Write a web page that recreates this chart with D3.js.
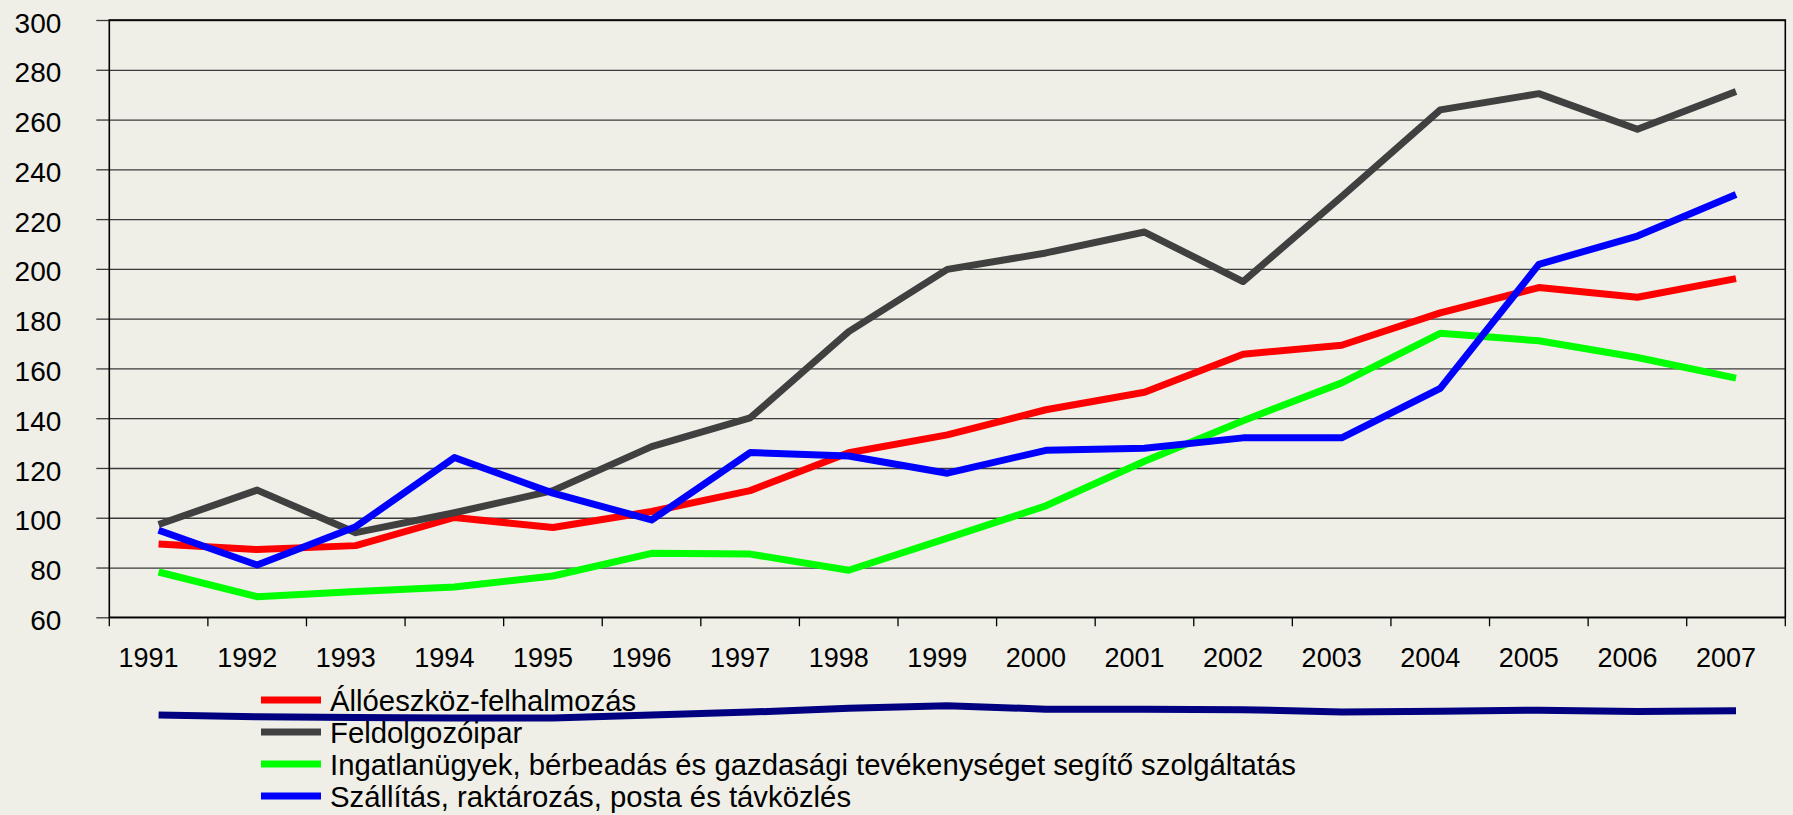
<!DOCTYPE html>
<html>
<head>
<meta charset="utf-8">
<script src="https://cdn.jsdelivr.net/npm/d3@7"></script>
<style>
  body { margin: 0; background: #efefe7; }
  svg { display: block; font-family: "Liberation Sans", Arial, sans-serif; }
  .domain { display: none; }
</style>
</head>
<body>
<div id="chart"></div>
<script>
var svgWidth = 1793;
var svgHeight = 815;

var margin = { top: 20, right: 7.7, bottom: 197.7, left: 109.3 };
var width = svgWidth - margin.left - margin.right;
var height = svgHeight - margin.top - margin.bottom;

// data
var years = ["1991", "1992", "1993", "1994", "1995", "1996", "1997", "1998", "1999",
    "2000", "2001", "2002", "2003", "2004", "2005", "2006", "2007"];
var yTicks = [60, 80, 100, 120, 140, 160, 180, 200, 220, 240, 260, 280, 300];

var seriesNames = [
    "Állóeszköz-felhalmozás",
    "Feldolgozóipar",
    "Ingatlanügyek, bérbeadás és gazdasági tevékenységet segítő szolgáltatás",
    "Szállítás, raktározás, posta és távközlés"
];
var seriesColors = ["#ff0000", "#404040", "#00ff00", "#0000ff"];

var allo = [89.5, 87.2, 88.8, 100.1, 96.1, 102.5, 110.9, 126.1, 133.3, 143.4, 150.4, 165.7, 169.3, 182.3, 192.5, 188.6, 196.1];
var feldolgozo = [97.3, 111.1, 94, 102, 110.9, 128.6, 140.1, 174.8, 199.8, 206.4, 214.8, 194.9, 229, 263.9, 270.4, 256.1, 271.3];
var ingatlan = [78.2, 68.3, 70.4, 72.2, 76.6, 85.7, 85.4, 78.9, 91.8, 104.8, 122.7, 139, 154.2, 174.1, 171.1, 164.4, 156.1];
var szallitas = [95, 81, 96.4, 124.2, 109.9, 99.1, 126.2, 124.8, 117.9, 127.1, 127.9, 132.1, 132.1, 152, 201.8, 213.2, 229.9];
// extra unlabelled series drawn below the axis
var extraSeries = [20.7, 20.0, 19.7, 19.5, 19.5, 20.7, 21.9, 23.5, 24.5, 23.1, 23.1, 22.9, 21.9, 22.3, 22.7, 22.1, 22.5];

var seriesValues = [allo, feldolgozo, ingatlan, szallitas];

var svg = d3.select("#chart")
    .append("svg")
    .attr("width", svgWidth)
    .attr("height", svgHeight);

var chartGroup = svg.append("g")
    .attr("transform", `translate(${margin.left}, ${margin.top})`);

var xBand = d3.scaleBand()
    .domain(years)
    .range([0, width])
    .padding(0);

var yLinearScale = d3.scaleLinear()
    .domain([60, 300])
    .range([height, 0]);

// gridlines
chartGroup.append("g")
    .attr("class", "grid")
    .call(d3.axisLeft(yLinearScale).tickValues(yTicks).tickSize(-width).tickFormat(""))
    .selectAll("line")
    .attr("stroke", "#3a3a3a")
    .attr("stroke-width", 1.3);

// y axis with outward ticks
var leftAxis = d3.axisLeft(yLinearScale).tickValues(yTicks).tickSize(13).tickPadding(0);
var yAxis = chartGroup.append("g").call(leftAxis);
yAxis.selectAll("line").attr("stroke", "#3a3a3a").attr("stroke-width", 1.3);
yAxis.selectAll("text")
    .attr("x", -48)
    .attr("dy", "0.43em")
    .attr("font-size", 28)
    .attr("fill", "#000");

// x axis labels
var bottomAxis = d3.axisBottom(xBand).tickSize(0).tickPadding(0);
var xAxis = chartGroup.append("g")
    .attr("transform", `translate(0, ${height})`)
    .call(bottomAxis);
xAxis.selectAll("text")
    .attr("y", 50)
    .attr("dy", 0)
    .attr("dx", -10)
    .attr("font-size", 27)
    .attr("fill", "#000");

// x ticks on category boundaries
var boundaries = years.map(d => xBand(d)).concat([xBand.range()[1]]);
chartGroup.append("g")
    .selectAll("line")
    .data(boundaries)
    .enter()
    .append("line")
    .attr("x1", d => d)
    .attr("x2", d => d)
    .attr("y1", height)
    .attr("y2", height + 9)
    .attr("stroke", "#000")
    .attr("stroke-width", 1.3);

// plot frame
chartGroup.append("rect")
    .attr("x", 0)
    .attr("y", 0)
    .attr("width", width)
    .attr("height", height)
    .attr("fill", "none")
    .attr("stroke", "#000")
    .attr("stroke-width", 1.6);

var line = d3.line()
    .x((d, i) => xBand(years[i]) + xBand.bandwidth() / 2)
    .y(d => yLinearScale(d));

// series, drawn so blue ends on top
var drawOrder = [2, 0, 1, 3];
drawOrder.forEach(function (k) {
    chartGroup.append("path")
        .datum(seriesValues[k])
        .attr("fill", "none")
        .attr("stroke", seriesColors[k])
        .attr("stroke-width", 7)
        .attr("stroke-linejoin", "round")
        .attr("d", line);
});

// legend
var legend = svg.append("g")
    .attr("transform", "translate(261, 700)");

var legendItems = legend.selectAll("g")
    .data(seriesNames)
    .enter()
    .append("g")
    .attr("transform", (d, i) => `translate(0, ${i * 32})`);

legendItems.append("line")
    .attr("x1", 0)
    .attr("x2", 60)
    .attr("y1", 0)
    .attr("y2", 0)
    .attr("stroke", (d, i) => seriesColors[i])
    .attr("stroke-width", 7);

legendItems.append("text")
    .attr("x", 69)
    .attr("y", 11)
    .attr("font-size", 29.3)
    .attr("fill", "#000")
    .text(d => d);

// extra navy line over the legend
chartGroup.append("path")
    .datum(extraSeries)
    .attr("fill", "none")
    .attr("stroke", "#000080")
    .attr("stroke-width", 7)
    .attr("d", line);
</script>
</body>
</html>
